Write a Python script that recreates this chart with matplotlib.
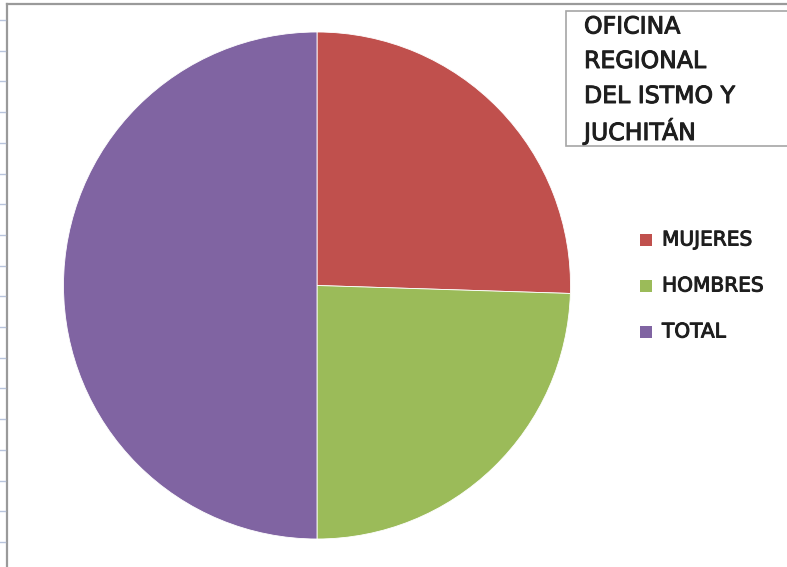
import matplotlib
matplotlib.use("Agg")
import matplotlib.pyplot as plt
from matplotlib.patches import Rectangle
from matplotlib.lines import Line2D
import matplotlib.patheffects as pe

categories = ["MUJERES", "HOMBRES", "TOTAL"]
values = [51, 49, 100]
colors = ["#C0504D", "#9BBB59", "#8064A2"]
title_lines = ["OFICINA", "REGIONAL", "DEL ISTMO Y", "JUCHITÁN"]

W, H = 787, 567
fig = plt.figure(figsize=(W / 100, H / 100), dpi=100)
fig.patch.set_facecolor("white")

def fx(x):
    return x / W

def fy(y):
    return 1 - y / H

# pie axes
cx, cy, r = 317, 285.5, 253.5
ax = fig.add_axes([fx(cx - r), fy(cy + r), 2 * r / W, 2 * r / H])
ax.pie(values, colors=colors, startangle=90, counterclock=False, radius=1,
       wedgeprops=dict(edgecolor="white", linewidth=0.6))
ax.set_xlim(-1, 1)
ax.set_ylim(-1, 1)
ax.set_aspect("equal")
ax.axis("off")

# chart frame (left and top edges)
fig.add_artist(Line2D([fx(7), fx(7)], [fy(4), 0], color="#9a9a9a", lw=1.6))
fig.add_artist(Line2D([fx(7), 1], [fy(4), fy(4)], color="#9a9a9a", lw=1.6))
# sheet row marks at far left
for i in range(18):
    yy = 20 + i * 30.7
    if yy < H:
        fig.add_artist(Line2D([fx(0), fx(5)], [fy(yy), fy(yy)], color="#b8c4dc", lw=1))

effect = [pe.withStroke(linewidth=0.7, foreground="#1e1e1e")]

# title box
fig.add_artist(Rectangle((fx(566), fy(146)), fx(787) - fx(566) + 0.01, fy(11) - fy(146),
                         facecolor="white", edgecolor="#a6a6a6", lw=1.2))
line_y = [26.5, 61, 96, 131]
for t, yy in zip(title_lines, line_y):
    fig.text(fx(584), fy(yy), t, fontsize=17, family="DejaVu Sans",
             color="#1e1e1e", va="center", ha="left", path_effects=effect)

# legend
leg_y = [240, 286, 332]
for lab, col, yy in zip(categories, colors, leg_y):
    fig.add_artist(Rectangle((fx(640), fy(yy + 6)), 12 / W, 12 / H,
                             facecolor=col, edgecolor="none"))
    fig.text(fx(662), fy(yy), lab, fontsize=14.5, family="DejaVu Sans",
             color="#1e1e1e", va="center", ha="left", path_effects=effect)

fig.savefig("out.png", dpi=100)
